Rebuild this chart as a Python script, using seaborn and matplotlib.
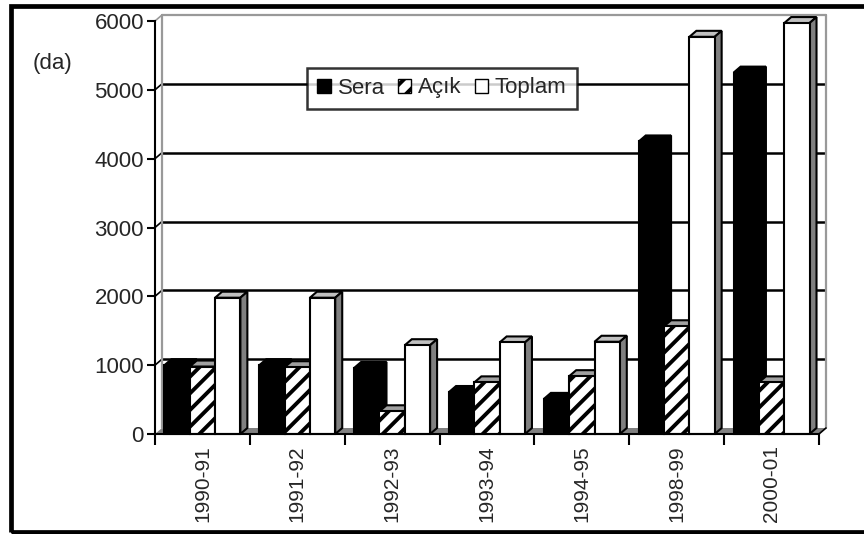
import pandas as pd
import seaborn as sns
import matplotlib.pyplot as plt
from matplotlib.patches import Polygon, Rectangle, Patch

# Data (da)
years = ['1990-91', '1991-92', '1992-93', '1993-94', '1994-95', '1998-99', '2000-01']
sera = [1000, 1000, 960, 610, 510, 4250, 5250]
acik = [980, 970, 330, 750, 840, 1565, 750]
toplam = [1980, 1980, 1290, 1330, 1340, 5770, 5970]
series = ['Sera', 'Açık', 'Toplam']

df = pd.DataFrame({
    'Yil': years * 3,
    'Seri': [s for s in series for _ in years],
    'Alan': sera + acik + toplam,
})

sns.set_theme(style='white')
plt.rcParams['font.family'] = ['Liberation Sans', 'DejaVu Sans']
plt.rcParams['hatch.linewidth'] = 2.8

FS = 16
W, H = 864, 534
fig = plt.figure(figsize=(W / 100, H / 100), dpi=100)
# front plane of the pseudo-3D plot area, in pixels
X0, X1, Y0, Y1 = 155, 819, 434, 21
ax = fig.add_axes([X0 / W, 1 - Y0 / H, (X1 - X0) / W, (Y0 - Y1) / H])
ax.patch.set_alpha(0)

sns.barplot(data=df, x='Yil', y='Alan', hue='Seri', palette=['black', 'white', 'white'],
            width=0.8, edgecolor='black', linewidth=1.5, ax=ax, legend=False)

ax.set_xlim(-0.5, len(years) - 0.5)
ax.set_ylim(0, 6000)

# depth offset (7 px right, 6 px up) in data units
ddx = 7 * (len(years)) / (X1 - X0)
ddy = 6 * 6000 / (Y0 - Y1)

top_colors = ['black', '#a0a0a0', '#c0c0c0']
side_colors = ['black', '#808080', '#808080']
for i, cont in enumerate(ax.containers):
    for j, bar in enumerate(cont):
        z = 3 + (j * 3 + i) * 0.1
        bar.set_zorder(z)
        bar.set_clip_on(False)
        if i == 1:
            bar.set_hatch('//')
        x, w, h = bar.get_x(), bar.get_width(), bar.get_height()
        top = Polygon([(x, h), (x + w, h), (x + w + ddx, h + ddy), (x + ddx, h + ddy)],
                      closed=True, facecolor=top_colors[i], edgecolor='black', lw=1.5,
                      zorder=z - 0.05, clip_on=False)
        side = Polygon([(x + w, 0), (x + w + ddx, ddy), (x + w + ddx, h + ddy), (x + w, h)],
                       closed=True, facecolor=side_colors[i], edgecolor='black', lw=1.5,
                       zorder=z - 0.05, clip_on=False)
        ax.add_patch(top)
        ax.add_patch(side)

# back wall, floor and gridlines
xl, xr = -0.5, len(years) - 0.5
ax.add_patch(Polygon([(xl, 0), (xr, 0), (xr + ddx, ddy), (xl + ddx, ddy)], closed=True,
                     facecolor='#808080', edgecolor='none', zorder=1, clip_on=False))
for yv in [1000, 2000, 3000, 4000, 5000]:
    ax.plot([xl + ddx, xr + ddx], [yv + ddy, yv + ddy], color='black', lw=1.8,
            zorder=1.5, clip_on=False, solid_capstyle='butt')
    ax.plot([xl, xl + ddx], [yv, yv + ddy], color='black', lw=1.2, zorder=1.5, clip_on=False)
ax.plot([xl + ddx, xr + ddx], [6000 + ddy, 6000 + ddy], color='#999999', lw=1.6,
        zorder=1.5, clip_on=False)
ax.plot([xl, xl + ddx], [6000, 6000 + ddy], color='#999999', lw=1.2, zorder=1.5, clip_on=False)
ax.plot([xl + ddx, xl + ddx], [ddy, 6000 + ddy], color='#999999', lw=1.6, zorder=1.5, clip_on=False)
ax.plot([xr + ddx, xr + ddx], [ddy, 6000 + ddy], color='#999999', lw=1.6, zorder=1.5, clip_on=False)
ax.plot([xr, xr + ddx], [0, ddy], color='black', lw=1.2, zorder=1.5, clip_on=False)

# axes styling
for s in ['top', 'right']:
    ax.spines[s].set_visible(False)
for s in ['left', 'bottom']:
    ax.spines[s].set_color('black')
    ax.spines[s].set_linewidth(1.5)
    ax.spines[s].set_zorder(10)

ax.set_yticks(range(0, 6001, 1000))
ax.tick_params(axis='y', which='major', left=True, length=6, width=1.5, color='black',
               direction='out', labelsize=FS, pad=2)
ax.set_xticks(range(len(years)))
ax.set_xticklabels(years, rotation=90)
ax.set_xticks([k - 0.5 for k in range(len(years) + 1)], minor=True)
ax.tick_params(axis='x', which='major', length=0, labelsize=15, pad=8)
ax.tick_params(axis='x', which='minor', bottom=True, length=8, width=1.5, color='black',
               direction='out')
ax.set_xlabel('')
ax.set_ylabel('')
ax.grid(False)

fig.text(52 / W, 1 - 63 / H, '(da)', ha='center', va='center', fontsize=FS)

handles = [Patch(facecolor='black', edgecolor='black'),
           Patch(facecolor='white', edgecolor='black', hatch='//'),
           Patch(facecolor='white', edgecolor='black')]
leg = ax.legend(handles, series, loc='center', bbox_to_anchor=(442 / W, 1 - 88 / H),
                bbox_transform=fig.transFigure, ncol=3, fontsize=FS, frameon=True,
                fancybox=False, handlelength=0.6, handleheight=0.6, handletextpad=0.3,
                columnspacing=0.6, borderpad=0.45, borderaxespad=0)
leg.get_frame().set_edgecolor('black')
leg.get_frame().set_linewidth(1.8)
leg.set_zorder(20)

# outer chart border
fig.add_artist(Rectangle((10.5 / W, 1 - 532 / H), 900 / W, (532 - 5.5) / H,
                         transform=fig.transFigure, fill=False, edgecolor='black',
                         lw=3.4, clip_on=False))

fig.savefig('out.png', dpi=100)
